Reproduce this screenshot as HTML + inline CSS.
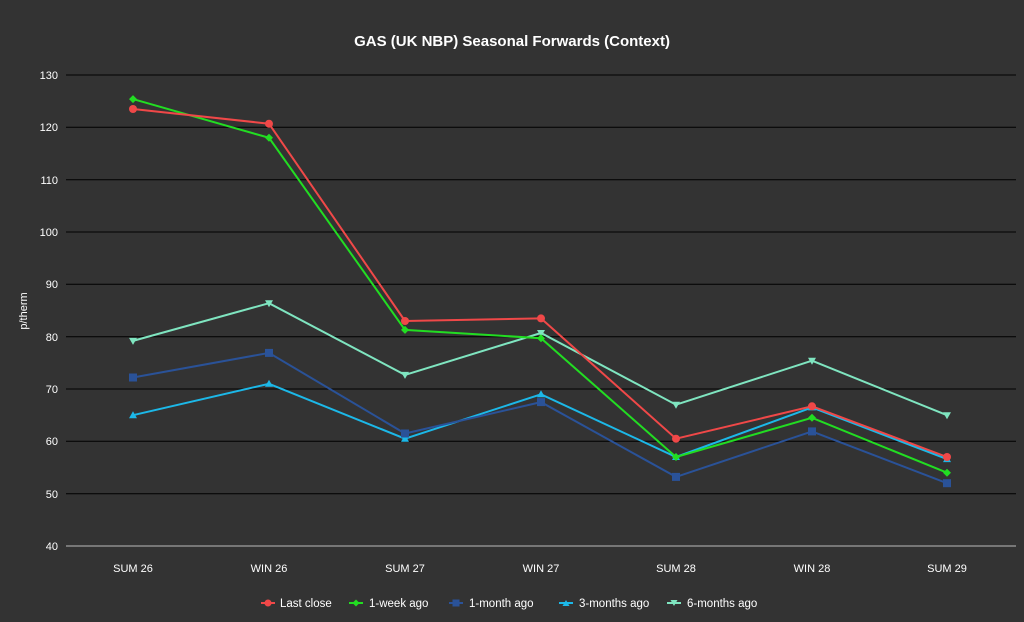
<!DOCTYPE html>
<html><head><meta charset="utf-8"><style>
html,body{margin:0;padding:0;background:#333333;}
svg{display:block;font-family:"Liberation Sans",sans-serif;}
</style></head><body>
<svg width="1024" height="622" viewBox="0 0 1024 622">
<rect width="1024" height="622" fill="#333333"/>
<text x="512" y="46" fill="#ffffff" font-size="15" font-weight="bold" text-anchor="middle">GAS (UK NBP) Seasonal Forwards (Context)</text>
<g stroke="#000" stroke-width="1">
<line x1="66" x2="1016" y1="75" y2="75"/><line x1="66" x2="1016" y1="127.3" y2="127.3"/>
<line x1="66" x2="1016" y1="179.7" y2="179.7"/><line x1="66" x2="1016" y1="232" y2="232"/>
<line x1="66" x2="1016" y1="284.3" y2="284.3"/><line x1="66" x2="1016" y1="336.7" y2="336.7"/>
<line x1="66" x2="1016" y1="389" y2="389"/><line x1="66" x2="1016" y1="441.3" y2="441.3"/>
<line x1="66" x2="1016" y1="493.7" y2="493.7"/>
</g>
<line x1="66" x2="1016" y1="546" y2="546" stroke="#bbb" stroke-width="1"/>
<g fill="#ffffff" font-size="11" text-anchor="end">
<text x="58" y="79">130</text><text x="58" y="131">120</text><text x="58" y="184">110</text>
<text x="58" y="236">100</text><text x="58" y="288">90</text><text x="58" y="341">80</text>
<text x="58" y="393">70</text><text x="58" y="445">60</text><text x="58" y="498">50</text><text x="58" y="550">40</text>
</g>
<text transform="translate(27,311) rotate(-90)" fill="#fff" font-size="11" text-anchor="middle">p/therm</text>
<g fill="#ffffff" font-size="11" text-anchor="middle">
<text x="133" y="572">SUM 26</text><text x="269" y="572">WIN 26</text><text x="405" y="572">SUM 27</text>
<text x="541" y="572">WIN 27</text><text x="676" y="572">SUM 28</text><text x="812" y="572">WIN 28</text><text x="947" y="572">SUM 29</text>
</g>
<g fill="none" stroke-width="2">
<polyline stroke="#7fe5c0" points="133,340.9 269,303.2 405,374.9 541,333 676,404.7 812,360.7 947,415.2"/>
<polyline stroke="#1cb8e8" points="133,415.2 269,383.8 405,438.7 541,394.3 676,457 812,407.4 947,459.1"/>
<polyline stroke="#2a5298" points="133,377.5 269,352.9 405,433.5 541,402.1 676,476.9 812,431.4 947,483.2"/>
<polyline stroke="#22dd22" points="133,99.1 269,137.8 405,329.9 541,338.2 676,457 812,417.8 947,472.7"/>
<polyline stroke="#f04848" points="133,109 269,123.7 405,321 541,318.4 676,438.7 812,406.3 947,457"/>
</g>
<g fill="#7fe5c0">
<path d="M129,337.9h8l-4,7z"/><path d="M265,300.2h8l-4,7z"/><path d="M401,371.9h8l-4,7z"/><path d="M537,330h8l-4,7z"/><path d="M672,401.7h8l-4,7z"/><path d="M808,357.7h8l-4,7z"/><path d="M943,412.2h8l-4,7z"/>
</g>
<g fill="#1cb8e8">
<path d="M129,418.2h8l-4,-7z"/><path d="M265,386.8h8l-4,-7z"/><path d="M401,441.7h8l-4,-7z"/><path d="M537,397.3h8l-4,-7z"/><path d="M672,460h8l-4,-7z"/><path d="M808,410.4h8l-4,-7z"/><path d="M943,462.1h8l-4,-7z"/>
</g>
<g fill="#2a5298">
<rect x="129" y="373.5" width="8" height="8"/><rect x="265" y="348.9" width="8" height="8"/><rect x="401" y="429.5" width="8" height="8"/><rect x="537" y="398.1" width="8" height="8"/><rect x="672" y="472.9" width="8" height="8"/><rect x="808" y="427.4" width="8" height="8"/><rect x="943" y="479.2" width="8" height="8"/>
</g>
<g fill="#22dd22">
<path d="M133,95.1l4,4l-4,4l-4,-4z"/><path d="M269,133.8l4,4l-4,4l-4,-4z"/><path d="M405,325.9l4,4l-4,4l-4,-4z"/><path d="M541,334.2l4,4l-4,4l-4,-4z"/><path d="M676,453l4,4l-4,4l-4,-4z"/><path d="M812,413.8l4,4l-4,4l-4,-4z"/><path d="M947,468.7l4,4l-4,4l-4,-4z"/>
</g>
<g fill="#f04848">
<circle cx="133" cy="109" r="4"/><circle cx="269" cy="123.7" r="4"/><circle cx="405" cy="321" r="4"/><circle cx="541" cy="318.4" r="4"/><circle cx="676" cy="438.7" r="4"/><circle cx="812" cy="406.3" r="4"/><circle cx="947" cy="457" r="4"/>
</g>
<g font-size="11.5" fill="#ffffff">
<line x1="261" x2="275" y1="603" y2="603" stroke="#f04848" stroke-width="2"/><circle cx="268" cy="603" r="3.5" fill="#f04848"/><text x="280" y="607">Last close</text>
<line x1="349" x2="363" y1="603" y2="603" stroke="#22dd22" stroke-width="2"/><path d="M356,599.5l3.5,3.5l-3.5,3.5l-3.5,-3.5z" fill="#22dd22"/><text x="369" y="607">1-week ago</text>
<line x1="449" x2="463" y1="603" y2="603" stroke="#2a5298" stroke-width="2"/><rect x="452.5" y="599.5" width="7" height="7" fill="#2a5298"/><text x="469" y="607">1-month ago</text>
<line x1="559" x2="573" y1="603" y2="603" stroke="#1cb8e8" stroke-width="2"/><path d="M562.5,606h7l-3.5,-6z" fill="#1cb8e8"/><text x="579" y="607">3-months ago</text>
<line x1="667" x2="681" y1="603" y2="603" stroke="#7fe5c0" stroke-width="2"/><path d="M670.5,600h7l-3.5,6z" fill="#7fe5c0"/><text x="687" y="607">6-months ago</text>
</g>
</svg>
</body></html>
